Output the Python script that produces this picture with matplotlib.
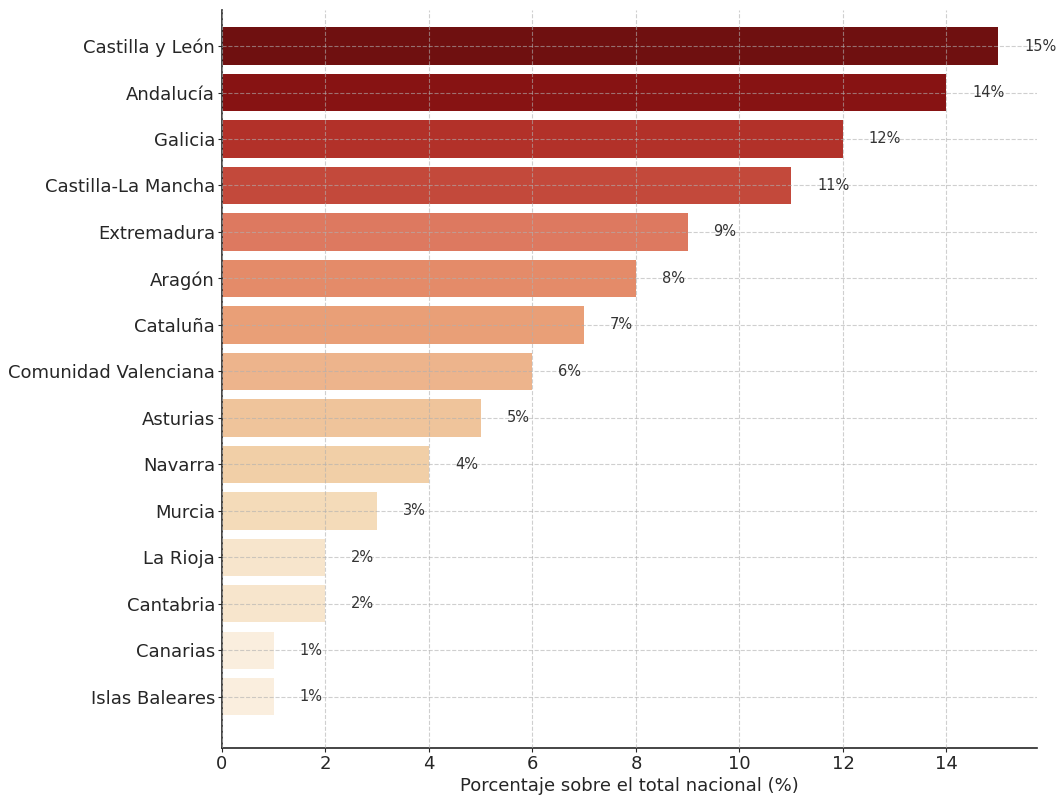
import matplotlib
matplotlib.use("Agg")
import matplotlib.pyplot as plt
import numpy as np
import colorsys

regions = ["Castilla y León", "Andalucía", "Galicia", "Castilla-La Mancha", "Extremadura",
           "Aragón", "Cataluña", "Comunidad Valenciana", "Asturias", "Navarra",
           "Murcia", "La Rioja", "Cantabria", "Canarias", "Islas Baleares"]
values = [15, 14, 12, 11, 9, 8, 7, 6, 5, 4, 3, 2, 2, 1, 1]
xticks = [0, 2, 4, 6, 8, 10, 12, 14]

def desat(c, s=0.75):
    h, l, sat = colorsys.rgb_to_hls(*c[:3])
    return colorsys.hls_to_rgb(h, l, sat * s)

cmap = plt.get_cmap("OrRd")
vmax = max(values)
colors = [desat(cmap(v / vmax)) for v in values]

fig = plt.figure(figsize=(10.56, 7.96), dpi=100)
ax = fig.add_axes([0.2102, 0.0603, 0.7718, 0.9271])
y = np.arange(len(regions))
ax.barh(y, values, height=0.8, color=colors, zorder=1)
ax.set_yticks(y)
ax.set_yticklabels(regions, fontsize=13, color="#262626")
ax.set_xticks(xticks)
ax.set_xticklabels([str(t) for t in xticks], fontsize=13, color="#262626")
ax.set_xlim(0, 15.75)
ax.set_ylim(15.1, -0.774)
ax.grid(True, linestyle="--", color="#b0b0b0", alpha=0.6, linewidth=0.8, zorder=2)
ax.set_axisbelow(False)
for s in ["top", "right"]:
    ax.spines[s].set_visible(False)
for s in ["left", "bottom"]:
    ax.spines[s].set_color("#262626")
    ax.spines[s].set_linewidth(1.2)
ax.tick_params(colors="#262626", length=3, pad=2)
for yi, v in zip(y, values):
    ax.text(v + 0.5, yi, f"{v}%", va="center", ha="left", fontsize=10.5, color="#333333", zorder=3)
ax.set_xlabel("Porcentaje sobre el total nacional (%)", fontsize=13, color="#262626", labelpad=3)
fig.savefig("out.png", dpi=100)
